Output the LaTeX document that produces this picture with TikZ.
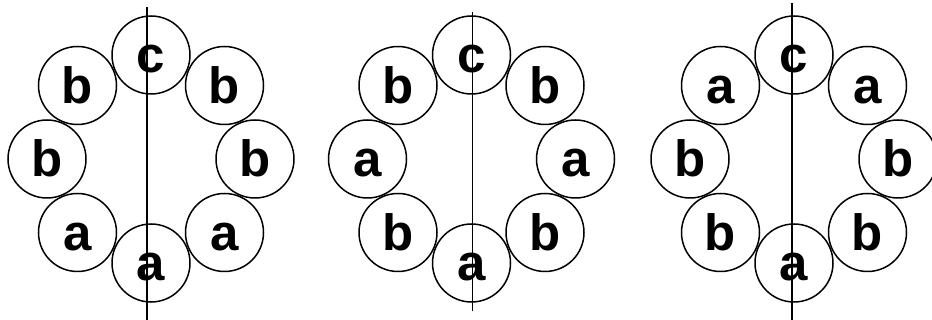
\documentclass[tikz,border=0pt]{standalone}
\usepackage{fontspec}
\setmainfont{Liberation Sans}
\begin{document}
\begin{tikzpicture}[x=1pt,y=-1pt,
  ring/.style={circle,draw,line width=1.5pt,minimum size=78pt,inner sep=0pt,
    text height=36pt,text depth=0pt,font=\fontsize{51}{51}\selectfont\bfseries},
  axisline/.style={line width=1.6pt}]
\useasboundingbox (0,0) rectangle (932,320);
\foreach \g/\cx/\pA/\pB/\pC/\pD/\pE/\pF/\pG/\pH in
  {1/151/c/b/b/a/a/a/b/b, 2/471.5/c/b/a/b/a/b/a/b, 3/794/c/a/b/b/a/b/b/a}{
  \node[ring] (g\g t)  at (\cx,55) {\pA};
  \node[ring] (g\g tr) at (\cx+73.5,85.5) {\pB};
  \node[ring] (g\g r)  at (\cx+104,159) {\pC};
  \node[ring] (g\g br) at (\cx+73.5,232.5) {\pD};
  \node[ring] (g\g b)  at (\cx,263) {\pE};
  \node[ring] (g\g bl) at (\cx-73.5,232.5) {\pF};
  \node[ring] (g\g l)  at (\cx-104,159) {\pG};
  \node[ring] (g\g tl) at (\cx-73.5,85.5) {\pH};
}
\coordinate (a1top) at (147,7);
\coordinate (a1bot) at (147,320);
\coordinate (a2top) at (472.5,12);
\coordinate (a2bot) at (472.5,311.5);
\coordinate (a3top) at (791.7,3);
\coordinate (a3bot) at (791.7,320);
\draw[axisline] (a1top) -- (a1bot);
\draw[axisline] (a2top) -- (a2bot);
\draw[axisline] (a3top) -- (a3bot);
\end{tikzpicture}
\end{document}
